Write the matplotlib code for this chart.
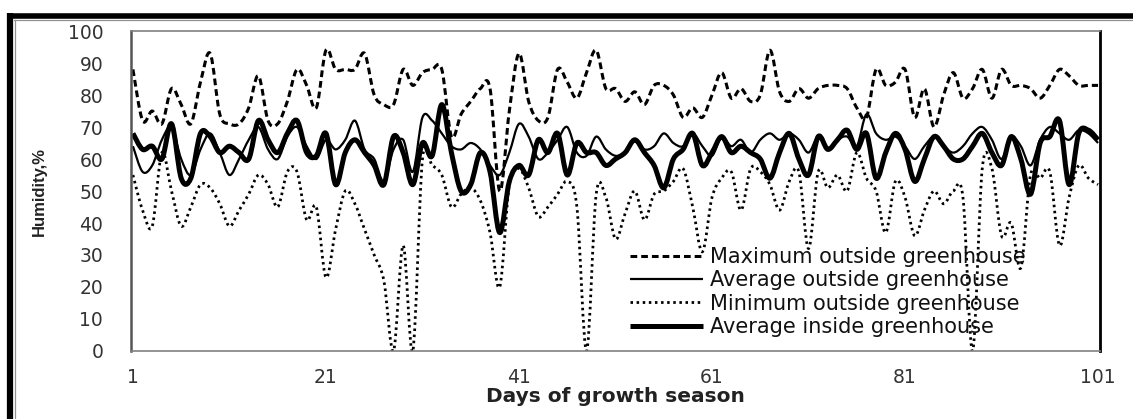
import numpy as np
import matplotlib
matplotlib.use("Agg")
import matplotlib.pyplot as plt
from matplotlib.path import Path
from matplotlib.patches import PathPatch
from matplotlib.lines import Line2D

plt.rcParams['font.family'] = ['DejaVu Sans']

days = list(range(1, 102))

max_outside = [88, 72, 75, 71, 82, 77, 71, 84, 93, 74,
               71, 71, 76, 86, 72, 71, 78, 88, 83, 76,
               94, 88, 88, 88, 93, 80, 77, 77, 88, 83,
               87, 88, 88, 67, 74, 78, 82, 82, 50, 75,
               93, 78, 72, 73, 88, 84, 79, 87, 94, 82,
               82, 78, 81, 77, 83, 83, 80, 73, 76, 73,
               80, 87, 79, 82, 78, 80, 94, 81, 78, 82,
               79, 82, 83, 83, 82, 76, 73, 88, 83, 84,
               88, 73, 82, 70, 80, 87, 79, 82, 88, 79,
               88, 83, 83, 82, 79, 83, 88, 86, 83, 83, 83]

avg_outside = [64, 56, 58, 66, 70, 60, 55, 63, 68, 62,
               55, 60, 66, 70, 63, 60, 67, 70, 64, 60,
               66, 63, 66, 72, 63, 60, 53, 63, 66, 56,
               73, 72, 68, 64, 63, 65, 63, 58, 55, 62,
               71, 67, 60, 62, 66, 70, 62, 61, 67, 63,
               61, 62, 66, 63, 64, 68, 65, 64, 68, 64,
               61, 67, 64, 66, 62, 66, 68, 66, 68, 66,
               62, 67, 63, 66, 67, 64, 74, 68, 66, 67,
               64, 60, 64, 67, 64, 62, 64, 68, 70, 66,
               60, 67, 64, 58, 66, 70, 68, 66, 69, 68, 65]

min_outside = [55, 44, 39, 62, 50, 39, 45, 52, 51, 46,
               39, 44, 49, 55, 52, 45, 56, 56, 41, 45,
               23, 38, 50, 46, 38, 30, 22, 0, 33, 0,
               60, 58, 55, 45, 49, 51, 47, 37, 20, 52,
               57, 51, 42, 45, 49, 53, 45, 0, 49, 48,
               35, 43, 50, 41, 49, 50, 53, 57, 45, 31,
               48, 54, 56, 44, 57, 56, 52, 44, 53, 56,
               32, 56, 51, 55, 50, 62, 54, 50, 37, 53,
               48, 36, 44, 50, 46, 50, 48, 0, 57, 57,
               36, 40, 26, 55, 54, 56, 33, 48, 58, 54, 52]

avg_inside = [68, 63, 64, 60, 71, 54, 54, 68, 67, 62,
              64, 62, 60, 72, 66, 62, 68, 72, 62, 61,
              68, 52, 62, 66, 62, 58, 52, 67, 62, 52,
              65, 61, 77, 62, 50, 52, 62, 56, 37, 53,
              58, 55, 66, 62, 68, 55, 65, 62, 62, 58,
              60, 62, 66, 62, 58, 51, 60, 63, 68, 58,
              62, 67, 62, 64, 62, 60, 54, 62, 68, 60,
              55, 67, 63, 66, 69, 63, 68, 54, 62, 68,
              63, 53, 60, 67, 64, 60, 60, 64, 68, 62,
              58, 67, 60, 49, 65, 67, 72, 52, 68, 69, 66]

labels = ["Maximum outside greenhouse", "Average outside greenhouse",
          "Minimum outside greenhouse", "Average inside greenhouse"]
x_ticks = [1, 21, 41, 61, 81, 101]
y_ticks = list(range(0, 101, 10))


def smooth_path(x, y):
    pts = np.column_stack([np.asarray(x, float), np.asarray(y, float)])
    n = len(pts)
    verts = [pts[0]]
    codes = [Path.MOVETO]
    for i in range(n - 1):
        p0 = pts[i - 1] if i > 0 else pts[i]
        p1 = pts[i]
        p2 = pts[i + 1]
        p3 = pts[i + 2] if i + 2 < n else pts[i + 1]
        c1 = p1 + (p2 - p0) / 6.0
        c2 = p2 - (p3 - p1) / 6.0
        verts += [c1, c2, p2]
        codes += [Path.CURVE4] * 3
    return Path(verts, codes)


W, H = 1133, 419
fig = plt.figure(figsize=(W / 100, H / 100), dpi=100)
L, R, T, B = 131, 1100, 31, 351
ax = fig.add_axes([L / W, 1 - B / H, (R - L) / W, (B - T) / H])

styles = [
    dict(lw=2.2, ls=(0, (2.2, 1.3))),
    dict(lw=1.6, ls='-'),
    dict(lw=2.0, ls=(0, (0.9, 1.3))),
    dict(lw=3.6, ls='-'),
]
series = [max_outside, avg_outside, min_outside, avg_inside]

handles = []
for ys, st, lab in zip(series, styles, labels):
    p = PathPatch(smooth_path(days, ys), fill=False, edgecolor='black',
                  lw=st['lw'], linestyle=st['ls'], capstyle='butt',
                  joinstyle='round')
    ax.add_patch(p)
    handles.append(Line2D([], [], color='black', lw=st['lw'],
                          linestyle=st['ls'], dash_capstyle='butt',
                          solid_capstyle='butt', label=lab))

ax.set_xlim(0.8, 101.2)
ax.set_ylim(0, 100)
ax.set_xticks(x_ticks)
ax.set_xticklabels([str(v) for v in x_ticks])
ax.set_yticks(y_ticks)
ax.set_yticklabels([str(v) for v in y_ticks])
ax.tick_params(axis='both', length=0, labelsize=13.5, labelcolor='#333333')
ax.tick_params(axis='y', pad=20)
ax.tick_params(axis='x', pad=12)

for side in ['top', 'bottom']:
    ax.spines[side].set_color('#808080')
    ax.spines[side].set_linewidth(1.2)
ax.spines['left'].set_color('#555555')
ax.spines['left'].set_linewidth(1.8)
ax.spines['right'].set_color('black')
ax.spines['right'].set_linewidth(2.0)

ax.set_xlabel("Days of growth season", fontsize=14.5, fontweight='bold',
              color='#222222')
ax.xaxis.set_label_coords(0.5, -(397 - B) / (B - T))
ax.xaxis.label.set_va('center')
ax.set_ylabel("Humidity,%", fontsize=12, fontweight='bold',
              family=['Liberation Sans', 'DejaVu Sans'], color='#222222')
ax.yaxis.set_label_coords(-(L - 39) / (R - L), 0.5)
ax.yaxis.label.set_va('center')

leg = ax.legend(handles=handles, loc='upper left',
                bbox_to_anchor=(630 / W, 1 - 247 / H),
                bbox_transform=fig.transFigure, frameon=False,
                fontsize=15, handlelength=3.5, handletextpad=0.35,
                labelspacing=0.16, borderpad=0, borderaxespad=0)
for t in leg.get_texts():
    t.set_color('#111111')

# outer frame of the chart (thick black at top and left, thin grey inside)
fig.add_artist(Line2D([7 / W, 1.0], [1 - 16 / H, 1 - 16 / H],
                      transform=fig.transFigure, color='black', lw=4.0,
                      solid_capstyle='butt'))
fig.add_artist(Line2D([10 / W, 10 / W], [0, 1 - 13.5 / H],
                      transform=fig.transFigure, color='black', lw=4.5,
                      solid_capstyle='butt'))
fig.add_artist(Line2D([14 / W, 1.0], [1 - 20.5 / H, 1 - 20.5 / H],
                      transform=fig.transFigure, color='#909090', lw=0.9))
fig.add_artist(Line2D([14.5 / W, 14.5 / W], [0, 1 - 20.5 / H],
                      transform=fig.transFigure, color='#909090', lw=0.9))

fig.savefig("out.png", dpi=100)
